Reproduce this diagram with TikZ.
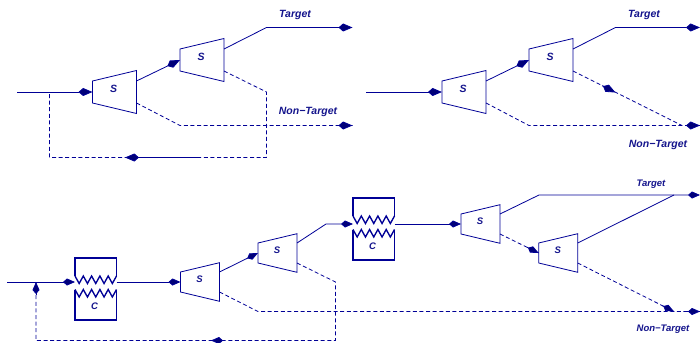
\documentclass[tikz,border=0pt]{standalone}
\usepackage{fontspec}
\setmainfont{Liberation Sans}
\usetikzlibrary{arrows.meta,calc}
\definecolor{flow}{RGB}{0,0,150}
\definecolor{ink}{RGB}{20,20,140}
\tikzset{
  x=1pt,y=-1pt,
  line/.style={draw=flow,line width=0.8pt,line join=miter},
  dashline/.style={line,dash pattern=on 4pt off 2.6pt},
  head/.style={draw=flow,line width=0.8pt,-{Kite[length=14pt,width=8pt,inset=4.6pt,fill=flow!80!black]}},
  shead/.style={draw=flow,line width=0.8pt,-{Kite[length=12pt,width=7pt,inset=4pt,fill=flow!80!black]}},
  unit/.style={draw=flow,line width=0.8pt,line join=miter},
  cbox/.style={draw=flow,line width=1.35pt,line join=miter},
  biglabel/.style={text=ink,font=\fontsize{10.5}{12}\selectfont\bfseries\itshape,inner sep=0pt},
  smalllabel/.style={text=ink,font=\fontsize{9.5}{11}\selectfont\bfseries\itshape,inner sep=0pt},
}
% separator: name, left x, centre y, width, half left height, half right height, outlet offset, label dx, label style
\newcommand{\sepunit}[9]{%
  \coordinate (#1-in) at (#2,#3);
  \coordinate (#1-a) at ({#2+#4},{#3-#7});
  \coordinate (#1-b) at ({#2+#4},{#3+#7});
  \draw[unit] (#2,{#3-#5}) -- ({#2+#4},{#3-#6}) -- ({#2+#4},{#3+#6}) -- (#2,{#3+#5}) -- cycle;
  \node[#9] (#1-label) at ({#2+#8},{#3-3}) {S};
}
\newcommand{\bigsep}[3]{\sepunit{#1}{#2}{#3}{44}{11}{21.5}{11}{21}{biglabel}}
\newcommand{\smallsep}[3]{\sepunit{#1}{#2}{#3}{39}{10}{19.3}{10}{19}{smalllabel}}
% cooler: name, left x, body y, wire y
\newcommand{\cooler}[4]{%
  \coordinate (#1-w) at (#2,#4);
  \coordinate (#1-e) at ({#2+41.5},#4);
  \draw[cbox] (#2,{#3-6}) -- (#2,{#3-24}) -- ({#2+41.5},{#3-24}) -- ({#2+41.5},{#3-6});
  \draw[cbox] (#2,{#3+7.5}) -- (#2,{#3+38}) -- ({#2+41.5},{#3+38}) -- ({#2+41.5},{#3+7.5});
  \draw[cbox] (#2,{#3-6}) \foreach \k in {1,...,5} {-- ++(4.15,7.5) -- ++(4.15,-7.5)};
  \draw[cbox] (#2,{#3+7.5}) \foreach \k in {1,...,5} {-- ++(4.15,7.5) -- ++(4.15,-7.5)};
  \node[smalllabel] (#1-label) at ({#2+19.5},{#3+24.7}) {C};
}
\begin{document}
\begin{tikzpicture}
\useasboundingbox (0,0) rectangle (700,342);
% ---------- top left ----------
\bigsep{a1}{92.5}{92}
\bigsep{a2}{180}{60}
\coordinate (a0) at (17,92);
\coordinate (aT) at (266.5,27.5);
\coordinate (aTe) at (352.5,27.5);
\coordinate (aN) at (180,125.5);
\coordinate (aNe) at (352.5,125.5);
\coordinate (aR1) at (266.5,92);
\coordinate (aR2) at (266.5,157.5);
\coordinate (aR3) at (49.5,157.5);
\coordinate (aR4) at (49.5,92);
\coordinate (aRh) at (125,157.5);
\coordinate (aRs) at (200,157.5);
\draw[head] (a0) -- (a1-in);
\draw[head] (a1-a) -- (a2-in);
\draw[head] (a2-a) -- (aT) -- (aTe);
\draw[dashline] (a1-b) -- (aN) -- (aNe);
\draw[head] ($(aNe)+(-15,0)$) -- (aNe);
\draw[dashline] (a2-b) -- (aR1) -- (aR2) -- (aR3) -- (aR4);
\draw[head] (aRs) -- (aRh);
\node[biglabel] (aTl) at (295,14.5) {Target};
\node[biglabel] (aNl) at (308,111.5) {Non−Target};
% ---------- top right ----------
\bigsep{b1}{442}{92}
\bigsep{b2}{529}{60}
\coordinate (b0) at (366,92);
\coordinate (bT) at (615.5,27.5);
\coordinate (bTe) at (700,27.5);
\coordinate (bN) at (529,125.5);
\coordinate (bNe) at (700,125.5);
\coordinate (bM) at (615.5,92.5);
\coordinate (bJ) at (682,125.5);
\draw[head] (b0) -- (b1-in);
\draw[head] (b1-a) -- (b2-in);
\draw[head] (b2-a) -- (bT) -- (bTe);
\draw[dashline] (b1-b) -- (bN) -- (bNe);
\draw[head] ($(bNe)+(-15,0)$) -- (bNe);
\draw[dashline] (b2-b) -- (bJ);
\draw[head] ($(bM)!15pt!(b2-b)$) -- (bM);
\node[biglabel] (bTl) at (644,14.5) {Target};
\node[biglabel] (bNl) at (658,144.5) {Non−Target};
% ---------- bottom ----------
\cooler{c1}{75}{282}{282}
\cooler{c2}{353}{222}{224}
\smallsep{s1}{180.5}{282}
\smallsep{s2}{258}{253}
\smallsep{s3}{461}{224}
\smallsep{s4}{538.7}{253}
\coordinate (c0) at (7,282);
\coordinate (cK) at (326,224);
\coordinate (cT) at (539,195);
\coordinate (cTe) at (700,195);
\coordinate (cJ) at (674,195);
\coordinate (cN) at (258,311.5);
\coordinate (cNe) at (700,311.5);
\coordinate (cM) at (674,311.5);
\coordinate (cR1) at (335.5,282);
\coordinate (cR2) at (335.5,340.5);
\coordinate (cR3) at (36,340.5);
\coordinate (cR4) at (36,282);
\coordinate (cRh) at (211,340.5);
\draw[shead] (c0) -- (c1-w);
\draw[shead] (c1-e) -- (s1-in);
\draw[shead] (s1-a) -- (s2-in);
\draw[shead] (s2-a) -- (cK) -- (c2-w);
\draw[shead] (c2-e) -- (s3-in);
\draw[shead] (s3-a) -- (cT) -- (cTe);
\draw[line] (s4-a) -- (cJ);
\draw[dashline] (s3-b) -- (s4-in);
\draw[shead] ($(s4-in)!13pt!(s3-b)$) -- (s4-in);
\draw[dashline] (s4-b) -- (cM);
\draw[shead] ($(cM)!13pt!(s4-b)$) -- (cM);
\draw[dashline] (s1-b) -- (cN) -- (cNe);
\draw[shead] ($(cNe)+(-13,0)$) -- (cNe);
\draw[dashline] (s2-b) -- (cR1) -- (cR2) -- (cR3) -- (cR4);
\draw[shead] ($(cRh)+(13,0)$) -- (cRh);
\draw[shead] ($(cR4)+(0,13)$) -- (cR4);
\node[smalllabel] (cTl) at (651,184) {Target};
\node[smalllabel] (cNl) at (663,329) {Non−Target};
\end{tikzpicture}
\end{document}
